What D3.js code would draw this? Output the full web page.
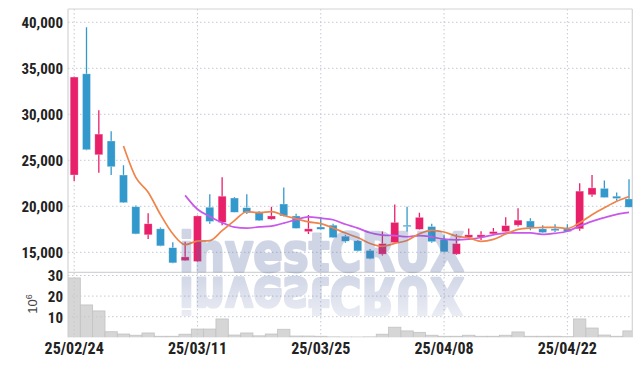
<!DOCTYPE html>
<html><head><meta charset="utf-8">
<script src="https://cdn.jsdelivr.net/npm/d3@7"></script>
<style>
html,body{margin:0;padding:0;background:#fff;}
svg{display:block;}
.lbl{font-family:"Liberation Sans Narrow","Roboto Condensed","DejaVu Sans Condensed",sans-serif;font-weight:bold;fill:#222;}
</style></head>
<body><svg id="c" width="642" height="366"></svg>
<script>
const dates = ["2025-02-24","2025-02-25","2025-02-26","2025-02-27","2025-02-28","2025-03-04","2025-03-05","2025-03-06","2025-03-07","2025-03-10","2025-03-11","2025-03-12","2025-03-13","2025-03-14","2025-03-17","2025-03-18","2025-03-19","2025-03-20","2025-03-21","2025-03-24","2025-03-25","2025-03-26","2025-03-27","2025-03-28","2025-03-31","2025-04-01","2025-04-02","2025-04-03","2025-04-04","2025-04-07","2025-04-08","2025-04-09","2025-04-10","2025-04-11","2025-04-14","2025-04-15","2025-04-16","2025-04-17","2025-04-18","2025-04-21","2025-04-22","2025-04-23","2025-04-24","2025-04-25","2025-04-28","2025-04-29"];
const open  = [23400,34400,25600,27100,23400,19950,16900,17550,15500,14100,14000,19900,18250,20900,19850,19400,18600,20250,18950,17250,17750,17950,16750,16250,15200,14800,16050,17950,17500,17800,16400,14800,16600,16650,17000,17250,17950,18400,17550,17550,17550,17550,21250,21950,21100,20800];
const high  = [34100,39450,30450,28150,24450,20100,19250,17700,16100,16150,19000,21300,23150,21000,21300,19500,19950,22050,19200,19050,18850,18100,16900,16350,15350,17250,20200,19950,19300,18100,16900,16950,17600,17300,17650,18800,19800,18700,17950,18050,18050,22500,23400,22800,21500,22950];
const low   = [22750,26100,23650,23400,20350,16950,16450,15650,13800,14050,13950,18100,17950,19350,19150,18400,18550,18900,17600,17000,17450,16550,16050,15100,14250,14650,15900,17250,17450,16050,15000,14700,16350,16350,16950,17200,17800,17400,17100,17200,17200,17350,21050,20950,20600,19900];
const close = [34050,26150,27850,24300,20400,17000,18100,15700,13850,14500,18950,18350,21100,19350,19300,18450,18950,18950,17600,17550,17500,16600,16200,15150,14300,15950,18250,17800,18800,16150,15050,15950,16900,16900,17250,17900,18500,17700,17150,17350,17250,21650,22000,20950,20850,19900];
const volume = [28.8,15.7,12.8,2.7,1.6,1.0,2.1,0.5,0.5,1.5,4.0,4.0,8.9,1.1,2.1,0.7,1.6,3.9,0.6,0.6,0.5,0.2,0.15,0.15,0.2,1.5,4.9,3.1,2.4,1.0,0.5,0.5,1.0,0.5,0.5,1.0,2.6,0.5,0.5,0.5,0.3,8.9,4.5,1.1,0.5,3.1];
const priceTicks = [15000,20000,25000,30000,35000,40000];
const volTicks = [10,20,30];
const dateTickIdx = [0,10,20,30,40];
const watermark = "investCRUX";

const svg = d3.select("#c");
const L = 68, R = 632.3, T = 9, PB = 272.3, VB = 337.3;
const step = 12.33;
const x = d3.scaleBand().domain(dates).range([L, L + step*dates.length]).padding(0);
const cx = d => x(d) + x.bandwidth()/2;
const y = d3.scaleLinear().domain([12826, 41446]).range([PB, T]);
const yv = d3.scaleLinear().domain([0, 31.55]).range([VB, PB]);

const RED = "#e8206a", BLUE = "#3399cc";

const defs = svg.append("defs");
defs.append("clipPath").attr("id","clipP").append("rect").attr("x",L).attr("y",T).attr("width",R-L).attr("height",PB-T);
defs.append("clipPath").attr("id","clipV").append("rect").attr("x",L).attr("y",PB).attr("width",R-L).attr("height",VB-PB);
const grad = defs.append("linearGradient").attr("id","fade").attr("x1",0).attr("y1",0).attr("x2",0).attr("y2",1);
grad.append("stop").attr("offset","0%").attr("stop-color","#fff").attr("stop-opacity",1);
grad.append("stop").attr("offset","100%").attr("stop-color","#fff").attr("stop-opacity",0.45);
defs.append("mask").attr("id","fm").attr("maskUnits","userSpaceOnUse").attr("x",0).attr("y",270).attr("width",642).attr("height",50)
  .append("rect").attr("x",0).attr("y",274).attr("width",642).attr("height",42).attr("fill","url(#fade)");

// volume bars
svg.append("g").attr("clip-path","url(#clipV)").selectAll("rect").data(dates).join("rect")
  .attr("x", d => x(d)).attr("width", x.bandwidth())
  .attr("y", (d,i) => yv(volume[i])).attr("height", (d,i) => VB - yv(volume[i]))
  .attr("fill","#d6d6d6").attr("stroke","#c2c2c2").attr("stroke-width",0.8);

// grid
const grid = svg.append("g").attr("stroke","#c3c9d6").attr("stroke-dasharray","1.5,2.5").attr("stroke-width",1);
grid.selectAll(".hp").data(priceTicks).join("line").attr("x1",L).attr("x2",R).attr("y1",d=>y(d)).attr("y2",d=>y(d));
grid.selectAll(".hv").data(volTicks).join("line").attr("x1",L).attr("x2",R).attr("y1",d=>yv(d)).attr("y2",d=>yv(d));
grid.selectAll(".v").data(dateTickIdx).join("line").attr("x1",i=>cx(dates[i])).attr("x2",i=>cx(dates[i])).attr("y1",T).attr("y2",VB);

// borders
const b = svg.append("g").attr("stroke","#d4d4d4").attr("stroke-width",1.2).attr("fill","none");
b.append("line").attr("x1",L).attr("x2",R).attr("y1",T).attr("y2",T);
b.append("line").attr("x1",L).attr("x2",L).attr("y1",T).attr("y2",VB);
b.append("line").attr("x1",R).attr("x2",R).attr("y1",T).attr("y2",VB);
b.append("line").attr("x1",L).attr("x2",R).attr("y1",PB).attr("y2",PB);

// candles
const cg = svg.append("g").attr("clip-path","url(#clipP)");
const col = i => close[i] >= open[i] ? RED : BLUE;
cg.selectAll(".w").data(dates).join("line")
  .attr("x1",cx).attr("x2",cx).attr("y1",(d,i)=>y(high[i])).attr("y2",(d,i)=>y(low[i]))
  .attr("stroke",(d,i)=>col(i)).attr("stroke-width",1.3);
cg.selectAll(".b").data(dates).join("rect")
  .attr("x",d=>cx(d)-4).attr("width",8)
  .attr("y",(d,i)=>y(Math.max(open[i],close[i])))
  .attr("height",(d,i)=>Math.max(1.5, Math.abs(y(open[i])-y(close[i]))))
  .attr("fill",(d,i)=>col(i)).attr("stroke","#fff").attr("stroke-opacity",0.5).attr("stroke-width",0.6);

// moving averages
function ma(n){ return close.map((c,i)=> i<n-1 ? null : d3.mean(close.slice(i-n+1,i+1))); }
const line = d3.line().defined(d=>d[1]!=null).x(d=>cx(d[0])).y(d=>y(d[1])).curve(d3.curveMonotoneX);
cg.append("path").attr("d", line(dates.map((d,i)=>[d, ma(10)[i]]))).attr("fill","none").attr("stroke","#c957ea").attr("stroke-width",1.7);
cg.append("path").attr("d", line(dates.map((d,i)=>[d, ma(5)[i]]))).attr("fill","none").attr("stroke","#f0844a").attr("stroke-width",1.7);

// watermark
const wm = svg.append("g").attr("font-family","'DejaVu Sans',sans-serif").attr("font-weight","bold").attr("font-size",54)
  .attr("fill","#5568a4").attr("stroke","#5568a4").attr("stroke-width",2.6).attr("stroke-linejoin","round").attr("opacity",0.27);
wm.append("text").attr("x",179).attr("y",271).attr("textLength",285).attr("lengthAdjust","spacingAndGlyphs").text(watermark);
wm.append("g").attr("mask","url(#fm)").append("text").attr("x",179).attr("y",271).attr("textLength",285).attr("lengthAdjust","spacingAndGlyphs")
  .attr("transform","translate(0,549) scale(1,-1)").text(watermark);

// axes labels
const ax = svg.append("g").attr("class","lbl");
ax.selectAll(".py").data(priceTicks).join("text").attr("x",63).attr("y",d=>y(d)).attr("dy","0.36em").attr("text-anchor","end").attr("font-size",15).text(d3.format(","));
ax.selectAll(".vy").data(volTicks).join("text").attr("x",63).attr("y",d=>yv(d)).attr("dy","0.40em").attr("text-anchor","end").attr("font-size",15).text(d=>d);
const fmt = d3.timeFormat("%y/%m/%d"), parse = d3.timeParse("%Y-%m-%d");
ax.selectAll(".xd").data(dateTickIdx).join("text").attr("x",i=>cx(dates[i])).attr("y",354).attr("text-anchor","middle").attr("font-size",16).text(i=>fmt(parse(dates[i])));

const u = svg.append("text").attr("transform","translate(37,304) rotate(-90)").attr("text-anchor","middle")
  .attr("font-family","'Liberation Sans','DejaVu Sans',sans-serif").attr("font-size",13).attr("fill","#444");
u.append("tspan").text("10");
u.append("tspan").attr("dy",-5).attr("font-size",9).text("6");
</script></body></html>
